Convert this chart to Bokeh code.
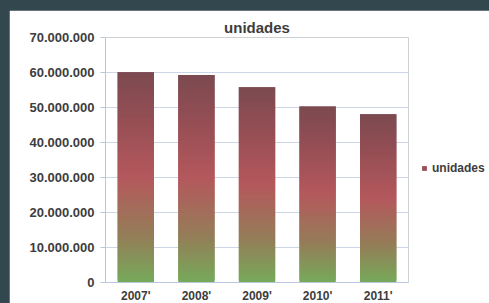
from bokeh.plotting import figure
from bokeh.models import Range1d, FixedTicker, Legend, LegendItem, ColumnDataSource
from bokeh.embed import file_html
from bokeh.resources import INLINE

# ---- data ----
years = ["2007'", "2008'", "2009'", "2010'", "2011'"]
unidades = [60100000, 59300000, 55800000, 50300000, 48100000]
y_ticks = [0, 10000000, 20000000, 30000000, 40000000, 50000000, 60000000, 70000000]
y_tick_labels = ["0", "10.000.000", "20.000.000", "30.000.000", "40.000.000",
                 "50.000.000", "60.000.000", "70.000.000"]

# gradient stops (fraction of bar height -> rgb)
grad_pos = [0.0, 0.22, 0.5, 0.78, 1.0]
grad_rgb = [(118, 170, 90), (148, 126, 88), (180, 88, 92), (148, 78, 84), (123, 74, 80)]

FONT = "Liberation Sans"
TXT = "#3d3d3d"


def grad_color(t):
    for i in range(len(grad_pos) - 1):
        if grad_pos[i] <= t <= grad_pos[i + 1]:
            f = (t - grad_pos[i]) / (grad_pos[i + 1] - grad_pos[i])
            c = [round(a + (b - a) * f) for a, b in zip(grad_rgb[i], grad_rgb[i + 1])]
            return "#%02x%02x%02x" % tuple(c)
    return "#%02x%02x%02x" % grad_rgb[-1]


N = 80
xs, bots, tops, cols = [], [], [], []
for yr, v in zip(years, unidades):
    for k in range(N):
        xs.append(yr)
        bots.append(v * k / N)
        tops.append(min(v, v * (k + 2) / N))  # overlap the next slice to hide seams
        cols.append(grad_color((k + 0.5) / N))

p = figure(x_range=years, y_range=Range1d(0, 70000000),
           frame_width=303, frame_height=245,
           output_backend="svg", toolbar_location=None,
           min_border_left=96, min_border_right=81, min_border_top=27, min_border_bottom=21,
           background_fill_color="white", border_fill_color="white")
p.outline_line_color = None

src = ColumnDataSource(dict(x=xs, bottom=bots, top=tops, c=cols))
bars = p.vbar(x="x", bottom="bottom", top="top", width=0.6, source=src,
              fill_color="c", line_color=None)

legend = Legend(items=[LegendItem(label="unidades", renderers=[bars], index=int(N * 0.72))],
                location=(13, 107), glyph_width=6, glyph_height=6, label_standoff=5,
                label_text_font=FONT, label_text_font_size="12px", label_text_font_style="bold",
                label_text_color=TXT, border_line_color=None, background_fill_alpha=0,
                padding=0, margin=0, label_height=12)
p.add_layout(legend, "right")

# title
p.title.text = "unidades"
p.title.align = "center"
p.title.text_font = FONT
p.title.text_font_size = "15px"
p.title.text_font_style = "bold"
p.title.text_color = TXT
p.title.standoff = 4

# axes
AX = "#b9c6dc"
p.yaxis.ticker = FixedTicker(ticks=y_ticks)
p.yaxis.major_label_overrides = dict(zip(y_ticks, y_tick_labels))
p.yaxis.major_label_text_font = FONT
p.yaxis.major_label_text_font_size = "13px"
p.yaxis.major_label_text_font_style = "bold"
p.yaxis.major_label_text_color = TXT
p.yaxis.axis_line_color = AX
p.yaxis.major_tick_line_color = AX
p.yaxis.major_tick_out = 5
p.yaxis.major_tick_in = 0
p.yaxis.minor_tick_line_color = None
p.yaxis.major_label_standoff = 6

p.xaxis.major_label_text_font = FONT
p.xaxis.major_label_text_font_size = "12px"
p.xaxis.major_label_text_font_style = "bold"
p.xaxis.major_label_text_color = TXT
p.xaxis.axis_line_color = AX
p.xaxis.major_tick_line_color = None
p.xaxis.major_tick_out = 0
p.xaxis.major_tick_in = 0
p.xaxis.major_label_standoff = 6

p.xgrid.grid_line_color = None
p.ygrid.grid_line_color = "#cdd6e6"

html = file_html(p, INLINE)
html = html.replace("</head>",
                    "<style>html, body { background: #33474f; } body { padding: 10px 0 0 9px; }</style></head>", 1)
open("out.html", "w").write(html)
